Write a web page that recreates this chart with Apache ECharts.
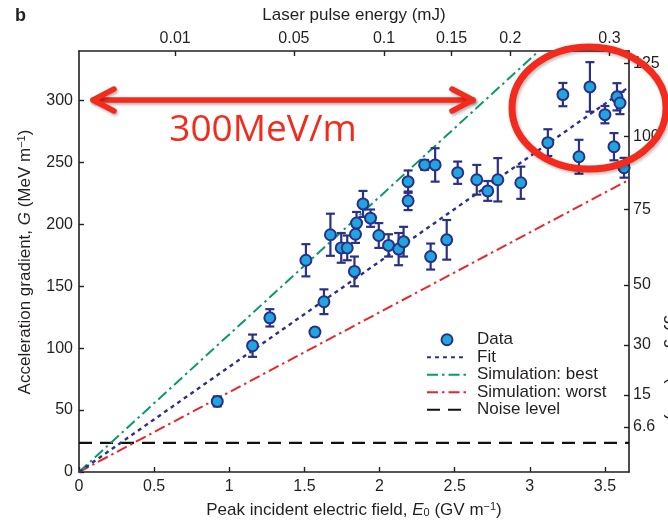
<!DOCTYPE html>
<html>
<head>
<meta charset="utf-8">
<script src="https://cdn.jsdelivr.net/npm/echarts@6/dist/echarts.min.js"></script>
<style>
  html, body { margin: 0; padding: 0; background: #fff; }
  #chart { width: 668px; height: 522px; }
</style>
</head>
<body>
<div id="chart"></div>
<script>
// --- data ---------------------------------------------------------------------
// Peak incident field E0 (GV/m), gradient G (MeV/m) and half-height of the error bar.
const fieldE = [0.92, 1.155, 1.27, 1.51, 1.57, 1.63, 1.673, 1.745, 1.785, 1.833,
  1.84, 1.847, 1.89, 1.94, 1.995, 2.06, 2.127, 2.16, 2.19, 2.19,
  2.30, 2.37, 2.34, 2.447, 2.52, 2.647, 2.72, 2.787, 2.94, 3.12,
  3.22, 3.327, 3.40, 3.50, 3.56, 3.58, 3.60, 3.627];
const gradient = [57, 102, 124.5, 171, 113, 137.5, 191.6, 181, 181, 162,
  192, 201, 216.5, 205, 191, 183, 180, 186, 219, 234.5,
  248, 248, 174, 187.5, 241.7, 236, 227, 236, 233.6, 266,
  304.8, 254.6, 311, 288.6, 262.7, 303, 298, 245.7];
const gradientErr = [4, 9, 7, 13, 3, 10, 17, 12, 10, 12,
  7, 9, 10.5, 7, 10, 9, 13, 12, 7.5, 9,
  4, 13.5, 10.5, 16, 9, 12, 8, 17.5, 13, 10.8,
  9.4, 13.7, 20, 7, 11, 11, 9, 8];

// Straight lines: [E0, G] end points.
const fitLine = [[0, 0], [3.66, 311]];
const bestLine = [[0, 0], [3.06, 340]];
const worstLine = [[0, 0], [3.66, 236]];
const noiseLine = [[0, 23.5], [3.66, 23.5]];

// Top axis: laser pulse energy ticks, placed at their E0 position.
const energyTicks = [0.64, 1.43, 2.03, 2.48, 2.87, 3.53];
const energyLabels = ["0.01", "0.05", "0.1", "0.15", "0.2", "0.3"];
// Right axis: energy gain ticks, placed at their G position.
const gainTicks = [329.8, 270.8, 211.8, 151.2, 102.7, 62.2, 36.4];
const gainLabels = ["125", "100", "75", "50", "30", "15", "6.6"];

const legendNames = ["Data", "Fit", "Simulation: best", "Simulation: worst", "Noise level"];

// --- styling ------------------------------------------------------------------
const INK = "#231f20";
const NAVY = "#2b3088";
const CYAN = "#1fa6df";
const GREEN = "#0a9a6a";
const RED = "#e8272d";
const ANNOT = "#f42a1c";
const FONT = "Liberation Sans, Arial, sans-serif";

const frameLine = { show: true, onZero: false, lineStyle: { color: INK, width: 1.6 } };
const inTick = { show: true, inside: true, length: 5, lineStyle: { color: INK, width: 1.4 } };
const tickText = { color: INK, fontSize: 16, fontFamily: FONT };
const annotShadow = { shadowBlur: 3, shadowOffsetX: 1.5, shadowOffsetY: 2, shadowColor: "rgba(0,0,0,0.3)" };

const chart = echarts.init(document.getElementById("chart"), null, { renderer: "canvas" });

const lineSeries = (name, data, color, type, width) => ({
  name, type: "line", data, symbol: "none", silent: true, animation: false,
  xAxisIndex: 0, yAxisIndex: 0, z: 2,
  lineStyle: { color, type, width },
  itemStyle: { color },
});

chart.setOption({
  animation: false,
  grid: { left: 79, right: 39, top: 51, bottom: 50 },
  xAxis: [
    {
      type: "value", position: "bottom", min: 0, max: 3.66, interval: 0.5,
      axisLine: frameLine, axisTick: inTick, splitLine: { show: false },
      axisLabel: { ...tickText, margin: 7, showMaxLabel: false },
    },
    {
      type: "value", position: "top", min: 0, max: 3.66,
      axisLine: frameLine, splitLine: { show: false },
      axisTick: { ...inTick, customValues: energyTicks },
      axisLabel: {
        ...tickText, margin: 4, customValues: energyTicks,
        formatter: (v) => energyLabels[energyTicks.indexOf(v)] ?? "",
      },
    },
  ],
  yAxis: [
    {
      type: "value", position: "left", min: 0, max: 340, interval: 50,
      axisLine: frameLine, axisTick: inTick, splitLine: { show: false },
      axisLabel: { ...tickText, margin: 6, showMaxLabel: false },
    },
    {
      type: "value", position: "right", min: 0, max: 340,
      axisLine: frameLine, splitLine: { show: false },
      axisTick: { ...inTick, customValues: gainTicks },
      axisLabel: {
        ...tickText, margin: 4, customValues: gainTicks,
        formatter: (v) => gainLabels[gainTicks.indexOf(v)] ?? "",
      },
    },
  ],
  legend: {
    // line entries hide the symbol that ECharts adds to line icons
    data: legendNames.map((name, i) => (i === 0 ? { name } : { name, itemStyle: { opacity: 0 } })),
    orient: "vertical", left: 421, top: 326,
    itemWidth: 40, itemHeight: 11, itemGap: 0, selectedMode: false,
    textStyle: { color: INK, fontSize: 17, fontFamily: FONT, lineHeight: 17.5, padding: [0, 0, 0, 5] },
  },
  series: [
    lineSeries("Noise level", noiseLine, "#111", [13, 8], 2.1),
    lineSeries("Simulation: worst", worstLine, RED, [11, 4, 2.5, 4], 2),
    lineSeries("Simulation: best", bestLine, GREEN, [11, 4, 2.5, 4], 2),
    lineSeries("Fit", fitLine, NAVY, [4, 4], 2.4),
    {
      name: "errors", type: "custom", silent: true, z: 3,
      data: fieldE.map((x, i) => [x, gradient[i] - gradientErr[i], gradient[i] + gradientErr[i]]),
      encode: { x: 0, y: [1, 2] },
      renderItem(params, api) {
        const lo = api.coord([api.value(0), api.value(1)]);
        const hi = api.coord([api.value(0), api.value(2)]);
        const w = 4.5;
        const style = { stroke: NAVY, lineWidth: 2.2, fill: null };
        return {
          type: "group",
          children: [
            { type: "line", shape: { x1: lo[0], y1: lo[1], x2: hi[0], y2: hi[1] }, style },
            { type: "line", shape: { x1: lo[0] - w, y1: lo[1], x2: lo[0] + w, y2: lo[1] }, style },
            { type: "line", shape: { x1: hi[0] - w, y1: hi[1], x2: hi[0] + w, y2: hi[1] }, style },
          ],
        };
      },
    },
    {
      name: "Data", type: "scatter", z: 4, symbol: "circle", symbolSize: 11,
      data: fieldE.map((x, i) => [x, gradient[i]]),
      itemStyle: { color: CYAN, borderColor: NAVY, borderWidth: 2, opacity: 1 },
    },
  ],
  graphic: [
    // panel letter and axis titles
    { type: "text", left: 15, top: 7, style: { text: "b", font: "bold 18px " + FONT, fill: INK } },
    {
      type: "text", x: 354, y: 15,
      style: { text: "Laser pulse energy (mJ)", font: "17px " + FONT, fill: INK, align: "center", verticalAlign: "middle" },
    },
    {
      type: "text", x: 354, y: 510,
      style: {
        text: "Peak incident electric field, {i|E}{sub|0} (GV m{sup|−1})",
        font: "17px " + FONT, fill: INK, align: "center", verticalAlign: "middle",
        rich: {
          i: { fontStyle: "italic", fontSize: 17, fontFamily: FONT, fill: INK },
          sub: { fontSize: 11, fontFamily: FONT, verticalAlign: "bottom", lineHeight: 10, fill: INK },
          sup: { fontSize: 11, fontFamily: FONT, verticalAlign: "top", lineHeight: 10, fill: INK },
        },
      },
    },
    {
      type: "text", x: 25, y: 262, rotation: Math.PI / 2,
      style: {
        text: "Acceleration gradient, {i|G} (MeV m{sup|−1})",
        font: "17px " + FONT, fill: INK, align: "center", verticalAlign: "middle",
        rich: {
          i: { fontStyle: "italic", fontSize: 17, fontFamily: FONT, fill: INK },
          sup: { fontSize: 11, fontFamily: FONT, verticalAlign: "top", lineHeight: 10, fill: INK },
        },
      },
    },
    {
      // right-axis title, mostly cut off by the image edge
      type: "text", x: 673, y: 308, rotation: -Math.PI / 2,
      style: { text: "Maximum energy gain (keV)", font: "18px " + FONT, fill: INK, align: "center", verticalAlign: "middle" },
    },
    // red annotations
    {
      type: "polyline", z: 100,
      shape: { points: [[93, 100], [473, 100]] },
      style: { stroke: ANNOT, lineWidth: 5.5, lineCap: "round", ...annotShadow },
    },
    {
      type: "polyline", z: 100,
      shape: { points: [[114, 89], [93, 100], [114, 111]] },
      style: { stroke: ANNOT, fill: null, lineWidth: 5.5, lineCap: "round", lineJoin: "round", ...annotShadow },
    },
    {
      type: "polyline", z: 100,
      shape: { points: [[452, 89], [473, 100], [452, 111]] },
      style: { stroke: ANNOT, fill: null, lineWidth: 5.5, lineCap: "round", lineJoin: "round", ...annotShadow },
    },
    {
      type: "text", z: 100, x: 263, y: 130,
      style: { text: "300MeV/m", font: "37px 'Open Sans', 'Noto Sans', sans-serif", fill: ANNOT, align: "center", verticalAlign: "middle" },
    },
    {
      type: "ellipse", z: 100,
      shape: { cx: 589, cy: 108, rx: 77, ry: 61 },
      style: { fill: null, stroke: ANNOT, lineWidth: 7, ...annotShadow, shadowColor: "rgba(0,0,0,0.25)" },
    },
  ],
});
</script>
</body>
</html>
